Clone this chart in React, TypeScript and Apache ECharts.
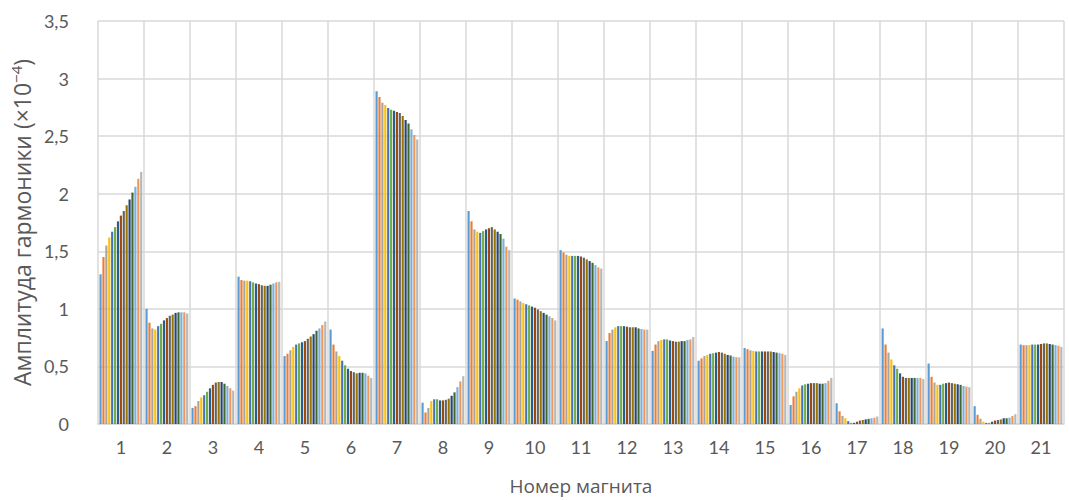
import React, { useEffect, useRef } from "react";
import * as echarts from "echarts";

const categories = ["1","2","3","4","5","6","7","8","9","10","11","12","13","14","15","16","17","18","19","20","21"];

const yTicks = [0, 0.5, 1, 1.5, 2, 2.5, 3, 3.5];

// values per magnet (15 series per magnet)
const mag1 = [1.30,1.45,1.55,1.62,1.67,1.71,1.76,1.81,1.85,1.90,1.95,2.01,2.06,2.13,2.19];
const mag2 = [1.00,0.88,0.83,0.82,0.85,0.87,0.90,0.92,0.94,0.95,0.965,0.97,0.97,0.97,0.96];
const mag3 = [0.14,0.155,0.20,0.23,0.25,0.28,0.31,0.34,0.36,0.365,0.365,0.35,0.33,0.31,0.29];
const mag4 = [1.28,1.25,1.245,1.245,1.24,1.23,1.22,1.215,1.205,1.20,1.20,1.21,1.22,1.23,1.235];
const mag5 = [0.59,0.61,0.64,0.67,0.69,0.70,0.71,0.72,0.74,0.76,0.78,0.81,0.83,0.86,0.89];
const mag6 = [0.82,0.69,0.63,0.59,0.55,0.51,0.48,0.46,0.45,0.44,0.445,0.445,0.44,0.42,0.40];
const mag7 = [2.89,2.84,2.79,2.77,2.745,2.73,2.72,2.71,2.70,2.675,2.64,2.61,2.56,2.51,2.47];
const mag8 = [0.185,0.10,0.14,0.20,0.215,0.215,0.205,0.205,0.21,0.22,0.245,0.275,0.32,0.37,0.415];
const mag9 = [1.85,1.76,1.69,1.67,1.66,1.675,1.69,1.70,1.71,1.69,1.67,1.65,1.61,1.54,1.51];
const mag10 = [1.09,1.08,1.065,1.05,1.04,1.03,1.02,1.01,0.995,0.98,0.965,0.95,0.935,0.92,0.90];
const mag11 = [1.51,1.49,1.47,1.46,1.46,1.46,1.46,1.455,1.445,1.43,1.415,1.40,1.38,1.36,1.35];
const mag12 = [0.72,0.79,0.82,0.84,0.85,0.85,0.85,0.845,0.84,0.84,0.84,0.83,0.825,0.82,0.82];
const mag13 = [0.635,0.69,0.72,0.73,0.735,0.735,0.725,0.72,0.715,0.715,0.72,0.72,0.73,0.735,0.755];
const mag14 = [0.55,0.57,0.59,0.60,0.61,0.615,0.62,0.625,0.62,0.61,0.60,0.595,0.585,0.58,0.58];
const mag15 = [0.66,0.65,0.64,0.635,0.63,0.63,0.63,0.63,0.63,0.63,0.625,0.62,0.615,0.61,0.60];
const mag16 = [0.165,0.24,0.28,0.31,0.335,0.345,0.35,0.355,0.355,0.355,0.35,0.35,0.355,0.375,0.40];
const mag17 = [0.18,0.11,0.07,0.05,0.025,0.01,0.01,0.02,0.03,0.035,0.04,0.045,0.05,0.055,0.065];
const mag18 = [0.83,0.69,0.62,0.56,0.51,0.48,0.44,0.41,0.40,0.40,0.40,0.40,0.40,0.40,0.39];
const mag19 = [0.525,0.41,0.36,0.34,0.34,0.35,0.355,0.36,0.355,0.35,0.345,0.34,0.33,0.325,0.32];
const mag20 = [0.155,0.08,0.045,0.02,0.01,0.01,0.02,0.03,0.035,0.04,0.05,0.05,0.055,0.07,0.085];
const mag21 = [0.69,0.685,0.685,0.685,0.69,0.69,0.69,0.695,0.70,0.70,0.695,0.69,0.685,0.68,0.67];

const magnets = [mag1,mag2,mag3,mag4,mag5,mag6,mag7,mag8,mag9,mag10,mag11,mag12,mag13,mag14,mag15,mag16,mag17,mag18,mag19,mag20,mag21];

const seriesColors = [
  "#5B9BD5","#ED7D31","#A5A5A5","#FFC000","#4472C4","#70AD47",
  "#255E91","#9E480E","#636363","#997300","#264478","#43682B",
  "#7CAFDD","#F1975A","#B7B7B7",
];

const LABEL_FONT = "Lato, 'Open Sans', sans-serif";
const TITLE_FONT = "'Open Sans', sans-serif";

export default function App() {
  const ref = useRef<HTMLDivElement>(null);
  useEffect(() => {
    document.body.style.margin = "0";
    if (!ref.current) return;
    const chart = echarts.init(ref.current, null, { renderer: "svg" });
    const nSeries = seriesColors.length;
    const series = Array.from({ length: nSeries }, (_, s) => ({
      type: "bar" as const,
      name: "S" + (s + 1),
      data: magnets.map((m) => m[s]),
      itemStyle: { color: seriesColors[s] },
      barGap: "35%",
      barCategoryGap: "7%",
    }));
    chart.setOption({
      animation: false,
      backgroundColor: "#ffffff",
      grid: { left: 94, right: 5, top: 21, bottom: 76, containLabel: false },
      xAxis: {
        type: "category",
        data: categories,
        name: "Номер магнита",
        nameLocation: "middle",
        nameGap: 52,
        nameTextStyle: { fontFamily: TITLE_FONT, fontSize: 19, color: "#595959" },
        axisLine: { show: true, lineStyle: { color: "#D9D9D9", width: 1.5 } },
        axisTick: { show: false },
        axisLabel: { fontFamily: LABEL_FONT, fontSize: 18, color: "#595959", margin: 14 },
        splitLine: { show: true, lineStyle: { color: "#D9D9D9", width: 1.5 } },
      },
      yAxis: {
        type: "value",
        min: yTicks[0],
        max: yTicks[yTicks.length - 1],
        interval: 0.5,
        name: "{a|Амплитуда гармоники (×10}{s|−4}{a|)}",
        nameLocation: "middle",
        nameGap: 57,
        nameTextStyle: {
          fontFamily: TITLE_FONT,
          fontSize: 23,
          color: "#595959",
          rich: {
            a: { fontFamily: TITLE_FONT, fontSize: 23, color: "#595959" },
            s: { fontFamily: TITLE_FONT, fontSize: 15, color: "#595959", padding: [0, 0, 12, 0] },
          },
        },
        axisLine: { show: false },
        axisTick: { show: false },
        axisLabel: {
          fontFamily: LABEL_FONT,
          fontSize: 18,
          color: "#595959",
          margin: 29,
          formatter: (v: number) => String(v).replace(".", ","),
        },
        splitLine: { show: true, lineStyle: { color: "#D9D9D9", width: 1.5 } },
      },
      series,
    });
    return () => chart.dispose();
  }, []);
  return <div ref={ref} style={{ width: 1069, height: 500 }} />;
}
